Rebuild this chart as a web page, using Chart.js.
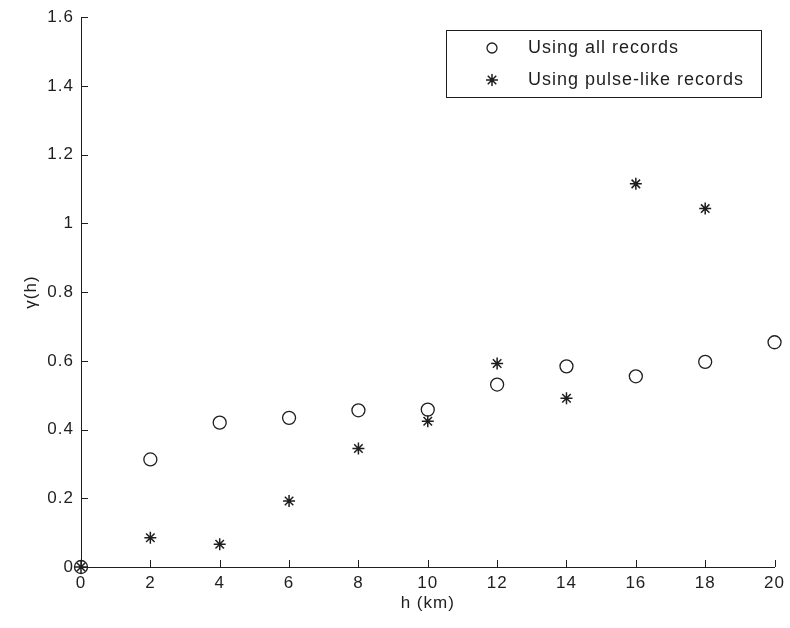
<!DOCTYPE html>
<html>
<head>
<meta charset="utf-8">
<script src="https://cdn.jsdelivr.net/npm/chart.js@4.4.1/dist/chart.umd.min.js"></script>
<style>
  html, body { margin: 0; padding: 0; background: #fff; }
  #wrap { width: 790px; height: 628px; }
</style>
</head>
<body>
<div id="wrap"><canvas id="c" width="790" height="628"></canvas></div>
<script>
// Separation distance h (km)
const distances = [0, 2, 4, 6, 8, 10, 12, 14, 16, 18, 20];
// Semivariogram estimates
const allRecords = [0, 0.313, 0.420, 0.434, 0.456, 0.458, 0.531, 0.584, 0.555, 0.597, 0.654];
const pulseDistances = [0, 2, 4, 6, 8, 10, 12, 14, 16, 18];
const pulseRecords = [0, 0.085, 0.066, 0.192, 0.345, 0.424, 0.592, 0.491, 1.115, 1.043];
const seriesNames = ['Using all records', 'Using pulse-like records'];
const xTicks = [0, 2, 4, 6, 8, 10, 12, 14, 16, 18, 20];
const yTicks = [0, 0.2, 0.4, 0.6, 0.8, 1, 1.2, 1.4, 1.6];

const INK = '#1e1e1e';
const FONT = "'Liberation Sans', Arial, sans-serif";

// Inward tick marks plus the boxed legend in the upper right
const axesDecor = {
  id: 'axesDecor',
  beforeDraw(chart) {
    chart.ctx.letterSpacing = '1px';
  },
  afterDraw(chart) {
    const ctx = chart.ctx;
    const xs = chart.scales.x, ys = chart.scales.y;
    const a = chart.chartArea;
    const len = 7;
    ctx.save();
    ctx.strokeStyle = INK;
    ctx.lineWidth = 1;
    ctx.beginPath();
    xTicks.forEach(v => {
      const px = Math.round(xs.getPixelForValue(v)) + 0.5;
      ctx.moveTo(px, a.bottom);
      ctx.lineTo(px, a.bottom - len);
    });
    yTicks.forEach(v => {
      const py = Math.round(ys.getPixelForValue(v)) + 0.5;
      ctx.moveTo(a.left, py);
      ctx.lineTo(a.left + len, py);
    });
    ctx.stroke();

    // legend
    const bx = 446.5, by = 30.5, bw = 315, bh = 67;
    ctx.fillStyle = '#fff';
    ctx.fillRect(bx, by, bw, bh);
    ctx.strokeStyle = INK;
    ctx.strokeRect(bx, by, bw, bh);
    const rows = [48, 80];
    chart.data.datasets.forEach((ds, i) => {
      const mx = 492, my = rows[i];
      ctx.save();
      ctx.strokeStyle = ds.borderColor;
      ctx.lineWidth = ds.borderWidth;
      Chart.helpers.drawPoint(ctx, {
        pointStyle: ds.pointStyle,
        radius: ds.legendRadius,
        borderWidth: ds.borderWidth,
        rotation: 0
      }, mx, my);
      ctx.restore();
      ctx.fillStyle = INK;
      ctx.font = '18px ' + FONT;
      ctx.letterSpacing = '1px';
      ctx.textBaseline = 'middle';
      ctx.textAlign = 'left';
      ctx.fillText(ds.label, 528, my);
    });
    ctx.restore();
  }
};

new Chart(document.getElementById('c'), {
  type: 'scatter',
  data: {
    datasets: [
      {
        label: seriesNames[0],
        data: distances.map((x, i) => ({ x, y: allRecords[i] })),
        pointStyle: 'circle',
        radius: 6.5,
        legendRadius: 5,
        borderColor: INK,
        backgroundColor: 'rgba(0,0,0,0)',
        borderWidth: 1.3,
        clip: false
      },
      {
        label: seriesNames[1],
        data: pulseDistances.map((x, i) => ({ x, y: pulseRecords[i] })),
        pointStyle: 'star',
        radius: 6,
        legendRadius: 6,
        borderColor: INK,
        backgroundColor: INK,
        borderWidth: 1.5,
        clip: false
      }
    ]
  },
  options: {
    responsive: false,
    animation: false,
    events: [],
    layout: { padding: { top: 17, right: 13, left: 0, bottom: 0 } },
    plugins: { legend: { display: false }, tooltip: { enabled: false } },
    scales: {
      x: {
        type: 'linear',
        min: 0, max: 20,
        afterFit(s) { s.height = 61; },
        afterBuildTicks(s) { s.ticks = xTicks.map(v => ({ value: v })); },
        grid: { display: false, drawTicks: false },
        border: { display: true, color: INK, width: 1 },
        ticks: {
          color: INK,
          padding: 6,
          maxRotation: 0,
          font: { family: FONT, size: 17 }
        },
        title: {
          display: true,
          text: 'h (km)',
          color: INK,
          font: { family: FONT, size: 17 },
          padding: { top: 0, bottom: 14 }
        }
      },
      y: {
        type: 'linear',
        min: 0, max: 1.6,
        afterFit(s) { s.width = 81; },
        afterBuildTicks(s) { s.ticks = yTicks.map(v => ({ value: v })); },
        grid: { display: false, drawTicks: false },
        border: { display: true, color: INK, width: 1 },
        ticks: {
          color: INK,
          padding: 7,
          font: { family: FONT, size: 17 },
          callback: v => String(Math.round(v * 10) / 10)
        },
        title: {
          display: true,
          text: 'γ(h)',
          color: INK,
          font: { family: FONT, size: 17 },
          padding: { top: 21, bottom: 0 }
        }
      }
    }
  },
  plugins: [axesDecor]
});
</script>
</body>
</html>
